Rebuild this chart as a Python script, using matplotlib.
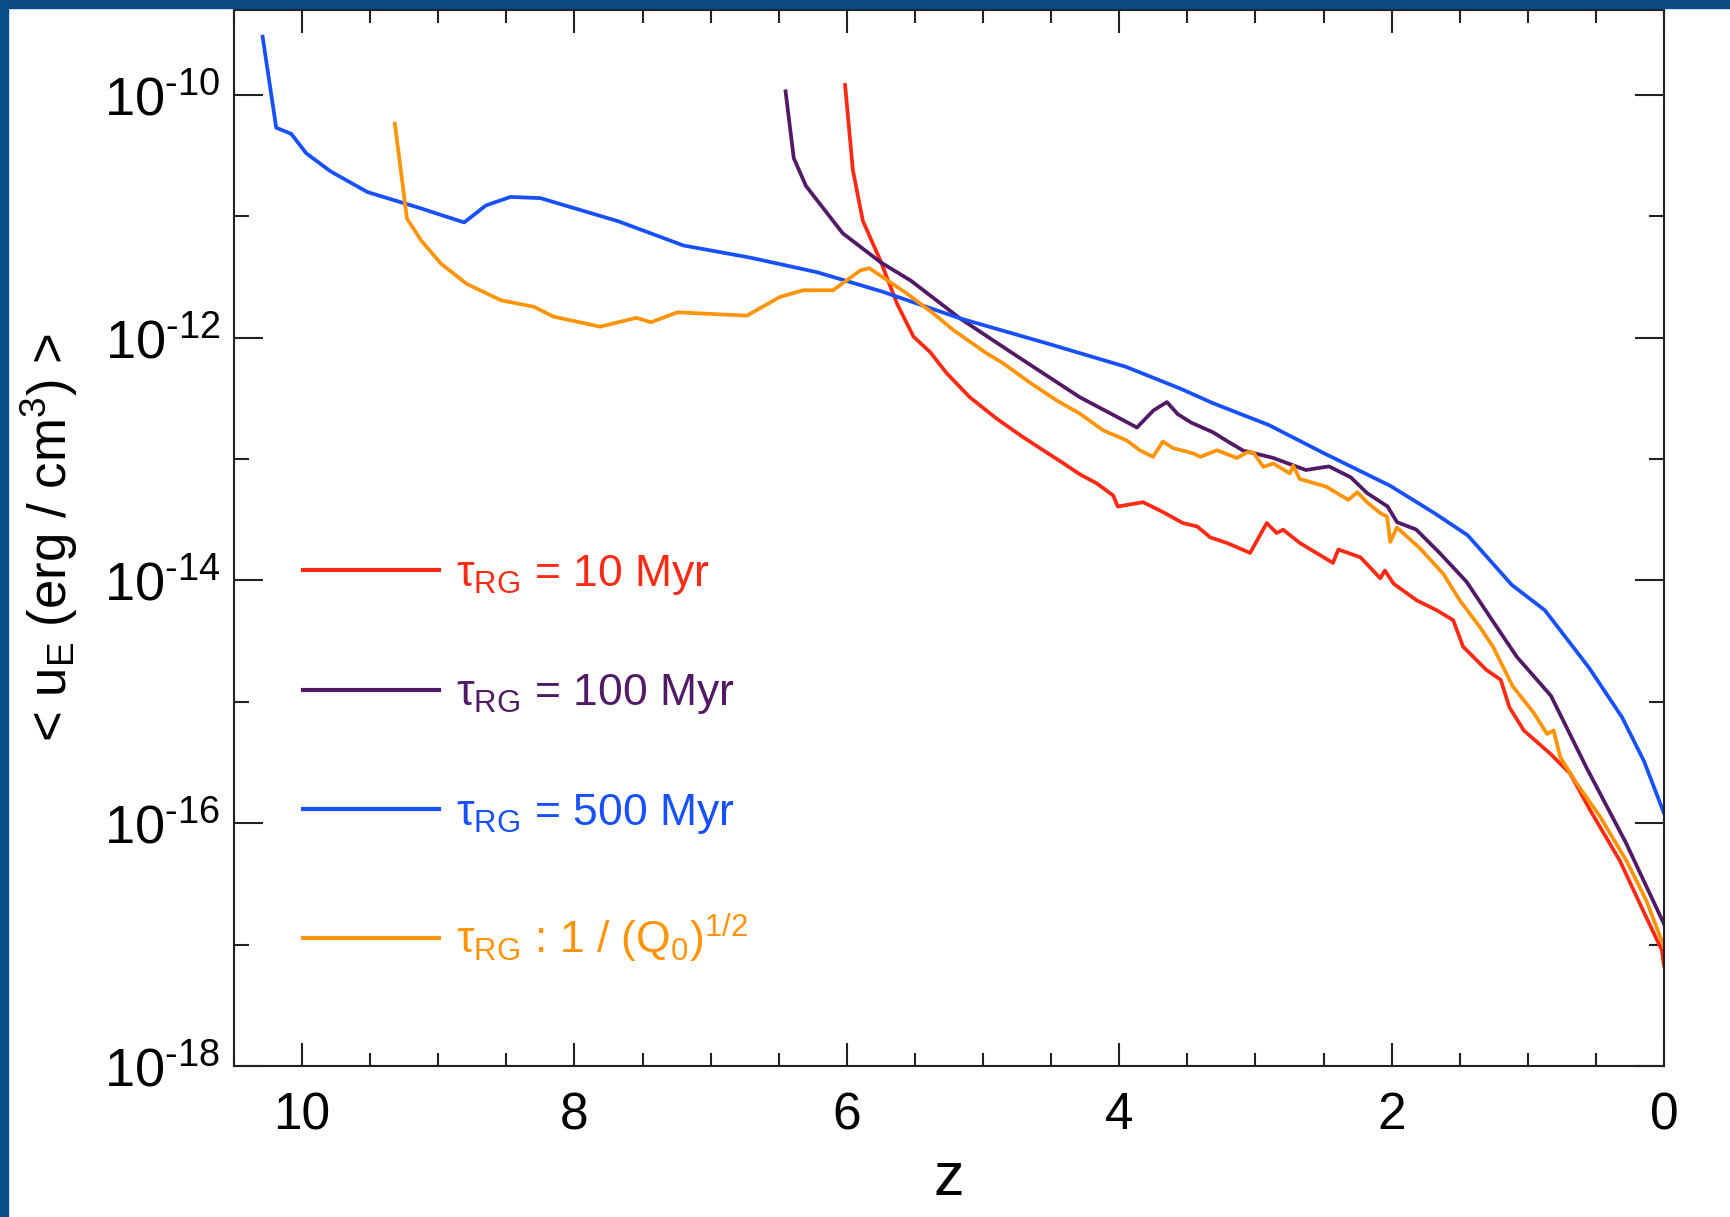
import numpy as np
import matplotlib
matplotlib.use('Agg')
import matplotlib.pyplot as plt
from matplotlib.patches import Rectangle

plt.rcParams['font.family'] = ['Liberation Sans', 'DejaVu Sans']
plt.rcParams['mathtext.fontset'] = 'custom'
plt.rcParams['mathtext.rm'] = 'Liberation Sans'
plt.rcParams['mathtext.default'] = 'regular'

# redshift and log10(<u_E>)
z_10 = [6.013, 5.956, 5.883, 5.754, 5.632, 5.511, 5.389, 5.268, 5.097, 4.903, 4.708, 4.408,
        4.287, 4.165, 4.044, 4.011, 3.825, 3.679, 3.533, 3.428, 3.331, 3.209, 3.039, 2.917,
        2.844, 2.796, 2.674, 2.431, 2.391, 2.229, 2.083, 2.050, 1.985, 1.815, 1.669, 1.548,
        1.475, 1.305, 1.199, 1.135, 1.029, 0.835, 0.689, 0.543, 0.324, 0.154, 0.016, 0.0]
log_10 = [-9.918, -10.618, -11.036, -11.364, -11.718, -11.991, -12.118, -12.291, -12.491,
          -12.664, -12.818, -13.036, -13.127, -13.200, -13.300, -13.391, -13.355, -13.436,
          -13.527, -13.555, -13.645, -13.691, -13.773, -13.527, -13.609, -13.582, -13.691,
          -13.855, -13.745, -13.809, -13.982, -13.918, -14.027, -14.164, -14.245, -14.327,
          -14.545, -14.736, -14.818, -15.045, -15.236, -15.427, -15.591, -15.891, -16.309,
          -16.718, -17.045, -17.173]

z_100 = [6.45, 6.39, 6.30, 6.03, 5.75, 5.53, 5.17, 4.78, 4.29, 4.02, 3.87, 3.75, 3.65, 3.57,
         3.47, 3.31, 3.21, 3.09, 2.87, 2.63, 2.46, 2.30, 2.18, 2.03, 1.96, 1.82, 1.65, 1.45,
         1.26, 1.08, 0.83, 0.57, 0.28, 0.0]
log_100 = [-9.97, -10.52, -10.75, -11.14, -11.38, -11.53, -11.84, -12.13, -12.49, -12.65,
           -12.74, -12.60, -12.53, -12.63, -12.70, -12.78, -12.85, -12.93, -12.99, -13.09,
           -13.06, -13.15, -13.28, -13.39, -13.52, -13.58, -13.77, -14.01, -14.33, -14.63,
           -14.95, -15.54, -16.16, -16.83]

z_500 = [10.29, 10.19, 10.08, 9.97, 9.79, 9.52, 9.14, 8.81, 8.65, 8.47, 8.25, 8.01, 7.68,
         7.20, 6.71, 6.22, 5.74, 5.17, 4.52, 3.95, 3.55, 3.31, 2.90, 2.50, 2.01, 1.686, 1.442,
         1.118, 0.875, 0.551, 0.308, 0.146, 0.0]
log_500 = [-9.52, -10.27, -10.32, -10.48, -10.63, -10.80, -10.93, -11.05, -10.91, -10.84,
           -10.85, -10.93, -11.04, -11.24, -11.34, -11.46, -11.62, -11.84, -12.05, -12.24,
           -12.42, -12.54, -12.72, -12.95, -13.22, -13.445, -13.627, -14.036, -14.245,
           -14.718, -15.127, -15.491, -15.918]

z_q0 = [9.319, 9.230, 9.125, 8.979, 8.793, 8.541, 8.298, 8.152, 7.812, 7.545, 7.439, 7.245,
        6.734, 6.491, 6.321, 6.102, 5.900, 5.835, 5.559, 5.365, 5.219, 4.976, 4.854, 4.652,
        4.457, 4.287, 4.117, 3.947, 3.849, 3.752, 3.679, 3.606, 3.452, 3.404, 3.282, 3.136,
        3.063, 3.015, 2.942, 2.869, 2.747, 2.723, 2.674, 2.480, 2.318, 2.253, 2.172, 2.083,
        2.034, 2.010, 1.961, 1.791, 1.621, 1.499, 1.353, 1.256, 1.110, 0.956, 0.859, 0.810,
        0.762, 0.640, 0.470, 0.276, 0.130, 0.0]
log_q0 = [-10.236, -11.018, -11.200, -11.391, -11.555, -11.691, -11.745, -11.827, -11.909,
          -11.836, -11.873, -11.791, -11.818, -11.664, -11.609, -11.609, -11.445, -11.427,
          -11.636, -11.800, -11.936, -12.127, -12.209, -12.373, -12.518, -12.627, -12.764,
          -12.845, -12.927, -12.982, -12.855, -12.909, -12.955, -12.982, -12.927, -12.991,
          -12.945, -12.945, -13.064, -13.036, -13.118, -13.055, -13.164, -13.227, -13.336,
          -13.273, -13.364, -13.445, -13.473, -13.682, -13.564, -13.736, -13.945, -14.164,
          -14.382, -14.545, -14.873, -15.091, -15.264, -15.236, -15.455, -15.673, -15.945,
          -16.309, -16.636, -17.018]

labels = [r'τ$_{RG}$ = 10 Myr', r'τ$_{RG}$ = 100 Myr', r'τ$_{RG}$ = 500 Myr',
          r'τ$_{RG}$ : 1 / (Q$_{0}$)$^{1/2}$']
colors = ['#FF2A14', '#521A66', '#1750FF', '#FF9408']

y_major = [1e-18, 1e-16, 1e-14, 1e-12, 1e-10]
y_major_labels = [r'$10^{\text{-18}}$', r'$10^{\text{-16}}$', r'$10^{\text{-14}}$',
                  r'$10^{\text{-12}}$', r'$10^{\text{-10}}$']
y_minor = [1e-17, 1e-15, 1e-13, 1e-11]

fig = plt.figure(figsize=(17.3, 12.17), dpi=100)
fig.patches.append(Rectangle((0, 1 - 8 / 1217), 1, 8 / 1217, transform=fig.transFigure,
                             color='#0b4a7e', zorder=0))
fig.patches.append(Rectangle((0, 0), 8 / 1730, 1, transform=fig.transFigure,
                             color='#0b4f88', zorder=0))

ax = fig.add_axes([234 / 1730, 151 / 1217, 1430 / 1730, 1056 / 1217])

series = [(z_10, log_10), (z_100, log_100), (z_500, log_500), (z_q0, log_q0)]
for (zz, ll), lab, col in zip(series, labels, colors):
    ax.plot(zz, 10.0 ** np.array(ll), color=col, lw=2.7, label=lab)

ax.set_yscale('log')
ax.set_xlim(10.5, 0)
ax.set_ylim(1e-18, 10 ** -9.3)

ax.set_yticks(y_major)
ax.set_yticklabels(y_major_labels)
ax.set_yticks(y_minor, minor=True)
ax.set_yticklabels([], minor=True)
ax.set_xticks([10, 8, 6, 4, 2, 0])
ax.set_xticks(np.arange(0, 10.6, 0.5), minor=True)

ax.tick_params(axis='both', which='both', direction='in', top=True, right=True,
               color='#222222', width=1.5)
ax.tick_params(axis='y', which='major', length=21, labelsize=39, pad=10)
ax.tick_params(axis='y', which='minor', length=11)
ax.tick_params(axis='x', which='major', length=16.5, labelsize=37, pad=18)
ax.tick_params(axis='x', which='minor', length=9.5)
for s in ax.spines.values():
    s.set_linewidth(1.5)
    s.set_color('#222222')

ax.set_xlabel('z', fontsize=44, labelpad=8)
ax.set_ylabel(r'< u$_{E}$ (erg / cm$^{3}$) >', fontsize=38)
ax.yaxis.set_label_coords(-0.108, 0.5)

leg = ax.legend(loc='upper left', bbox_to_anchor=(0.02, 0.524), frameon=False,
                fontsize=32, handlelength=3.06, handletextpad=0.4, labelspacing=1.70,
                labelcolor='linecolor')
for h in leg.get_lines():
    h.set_linewidth(3)

fig.savefig('out.png', dpi=100)
